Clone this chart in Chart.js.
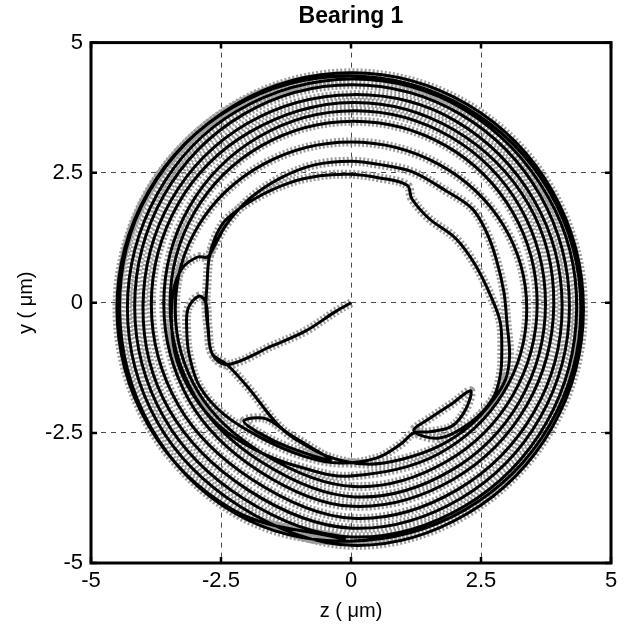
<!DOCTYPE html>
<html lang="en">
  <head>
    <meta charset="UTF-8" />
    <meta name="viewport" content="width=device-width, initial-scale=1.0" />
    <script src="https://cdn.jsdelivr.net/npm/chart.js@4.4.0/dist/chart.umd.min.js"></script>
    <title>Bearing 1</title>
    <style>
      body { margin: 0; background: #fff; }
    </style>
  </head>
  <body>
    <canvas id="chart" width="626" height="628"></canvas>
    <script>
      // shaft centre orbit at bearing 1, [z, y] in micrometres
      const tickValues = [-5, -2.5, 0, 2.5, 5];

      // start-up from the centre and the first irregular turns
      const runUp = [
        [0, 0], [-0.3, -0.17], [-0.87, -0.54], [-1.52, -0.83], [-2.38, -1.19],
        [-2.67, -0.98], [-2.75, -0.45], [-2.79, 0.0], [-2.92, 0.13],
        [-3.13, -0.1], [-3.16, -0.5], [-3.11, -1.01], [-2.91, -1.61], [-2.45, -2.14],
        [-1.72, -2.6], [-0.9, -2.95], [-0.2, -3.08], [0.5, -2.98],
        [0.95, -2.72], [1.21, -2.5], [1.5, -2.48], [1.94, -2.37], [2.21, -2.04], [2.3, -1.69],
        [1.94, -1.94], [1.56, -2.19], [1.21, -2.46],
        [1.7, -2.6], [2.3, -2.3], [2.72, -1.85], [2.87, -1.4], [2.9, -0.9], [2.87, -0.37],
        [2.71, 0.08], [2.4, 0.71], [2.02, 1.23], [1.5, 1.62], [1.17, 2.0], [1.08, 2.26],
        [0.55, 2.4], [0, 2.47], [-0.6, 2.44], [-1.2, 2.3], [-1.85, 2.0], [-2.4, 1.6],
        [-2.6, 1.28], [-2.73, 0.85], [-2.77, 0.33], [-2.79, -0.05], [-2.75, -0.5], [-2.67, -0.98],
        [-2.38, -1.19], [-1.96, -1.65], [-1.35, -2.4], [-0.81, -2.75], [-0.4, -3.02],
        [-1.19, -2.78], [-1.77, -2.5], [-2.06, -2.27], [-1.63, -2.23], [-1.1, -2.6],
        [-0.45, -2.95], [0.3, -3.1], [1.0, -3.0], [1.7, -2.75], [2.3, -2.35], [2.75, -1.85],
        [2.98, -1.45], [3.05, -1.0], [3.0, -0.4], [2.94, 0.21], [2.79, 0.85], [2.6, 1.37],
        [2.33, 1.81], [1.83, 2.15], [1.17, 2.52], [0.54, 2.66], [0, 2.72], [-0.7, 2.65],
        [-1.35, 2.4], [-1.95, 2.0], [-2.4, 1.5], [-2.65, 1.05],
        [-2.76, 0.88], [-2.95, 0.88], [-3.25, 0.66], [-3.42, 0.2], [-3.45, -0.45],
        [-3.35, -1.1], [-3.05, -1.75], [-2.55, -2.35], [-1.85, -2.82], [-1.0, -3.15]
      ];

      // orbit growing from about 3.2 to 3.7 um
      const innerTurns = [
        [0, -3.33], [1.69, -2.9], [2.93, -1.73], [3.38, -0.12], [2.93, 1.49], [1.69, 2.66],
        [0, 3.09], [-1.69, 2.66], [-2.93, 1.49], [-3.38, -0.12], [-2.93, -1.73], [-1.69, -2.9],
        [0.05, -3.53], [1.82, -3.06], [3.11, -1.78], [3.58, -0.02], [3.11, 1.74], [1.82, 3.02],
        [0.05, 3.49], [-1.72, 3.02], [-3.01, 1.74], [-3.48, -0.02], [-3.01, -1.78], [-1.72, -3.06],
        [0.07, -3.73], [1.91, -3.23], [3.25, -1.88], [3.74, -0.02], [3.25, 1.84], [1.91, 3.19],
        [0.07, 3.69], [-1.77, 3.19], [-3.11, 1.84], [-3.6, -0.02], [-3.11, -1.88], [-1.77, -3.23]
      ];

      // outer turns settling near 4.5 um
      const outerTurns = [
        [0.03, -3.91], [1.97, -3.39], [3.38, -1.97], [3.9, -0.03], [3.42, 1.88], [1.97, 3.33],
        [0.03, 3.85], [-1.95, 3.28], [-3.32, 1.91], [-3.84, -0.03], [-3.32, -1.97], [-1.91, -3.39],
        [0.03, -4.14], [2.05, -3.59], [3.52, -2.1], [4.06, -0.07], [3.52, 1.97], [2.0, 3.5],
        [0.03, 4.0], [-1.99, 3.45], [-3.46, 1.97], [-4.0, -0.07], [-3.5, -2.05], [-1.99, -3.59],
        [0.02, -4.33], [2.11, -3.76], [3.64, -2.2], [4.2, -0.07], [3.64, 2.06], [2.11, 3.62],
        [0.02, 4.19], [-2.07, 3.62], [-3.6, 2.06], [-4.16, -0.07], [-3.6, -2.2], [-2.07, -3.76],
        [0.02, -4.5], [2.18, -3.91], [3.76, -2.3], [4.34, -0.1], [3.8, 2.02], [2.18, 3.71],
        [0.02, 4.3], [-2.2, 3.68], [-3.72, 2.1], [-4.3, -0.1], [-3.72, -2.3], [-2.14, -3.91],
        [0.01, -4.66], [2.24, -4.05], [3.87, -2.39], [4.47, -0.12], [3.87, 2.15], [2.24, 3.81],
        [0.01, 4.42], [-2.22, 3.81], [-3.9, 2.1], [-4.45, -0.12], [-3.85, -2.39], [-2.22, -4.05],
        [-0.04, -4.58], [2.19, -3.98], [3.82, -2.35], [4.42, -0.11], [3.82, 2.13], [2.19, 3.76],
        [-0.04, 4.36], [-2.27, 3.76], [-3.9, 2.13], [-4.5, -0.11], [-3.9, -2.35], [-2.27, -3.98],
        [-0.1, -4.55]
      ];

      const orbit = runUp.concat(innerTurns, outerTurns).map(([z, y]) => ({ x: z, y: y }));

      // closed box with inward tick marks on all four sides
      const framePlugin = {
        id: "frame",
        afterDatasetsDraw(chart) {
          const { ctx, chartArea: a, scales } = chart;
          const len = 6;
          ctx.save();
          ctx.strokeStyle = "#000";
          ctx.lineWidth = 3;
          ctx.strokeRect(a.left, a.top, a.right - a.left, a.bottom - a.top);
          ctx.lineWidth = 2.5;
          ctx.beginPath();
          tickValues.forEach((v) => {
            const px = scales.x.getPixelForValue(v);
            const py = scales.y.getPixelForValue(v);
            ctx.moveTo(px, a.bottom); ctx.lineTo(px, a.bottom - len);
            ctx.moveTo(px, a.top); ctx.lineTo(px, a.top + len);
            ctx.moveTo(a.left, py); ctx.lineTo(a.left + len, py);
            ctx.moveTo(a.right, py); ctx.lineTo(a.right - len, py);
          });
          ctx.stroke();
          ctx.restore();
        },
      };

      const gridColor = (c) => (Math.abs(c.tick.value) === 5 ? "rgba(0,0,0,0)" : "#4a4a4a");
      const tickFont = { family: "'Liberation Sans', Arial, sans-serif", size: 22 };
      const titleFont = { family: "'Liberation Sans', Arial, sans-serif", size: 20 };

      const ctx = document.getElementById("chart").getContext("2d");
      const myChart = new Chart(ctx, {
        type: "line",
        data: {
          datasets: [
            {
              label: "orbit",
              data: orbit,
              borderColor: "#000",
              borderWidth: 3,
              pointRadius: 0,
              tension: 0.35,
              fill: false,
              order: 0,
            },
            {
              label: "orbit shadow",
              data: orbit,
              borderColor: "rgba(140,140,140,0.85)",
              borderWidth: 9,
              borderDash: [2, 2],
              pointRadius: 0,
              tension: 0.35,
              fill: false,
              order: 1,
            },
          ],
        },
        options: {
          responsive: false,
          animation: false,
          layout: { padding: { top: 0, left: 10, right: 15, bottom: 0 } },
          plugins: {
            legend: { display: false },
            tooltip: { enabled: false },
            title: {
              display: true,
              text: "Bearing 1",
              fullSize: false,
              color: "#000",
              font: { family: "'Liberation Sans', Arial, sans-serif", size: 23, weight: "bold" },
              padding: { top: 3, bottom: 12 },
            },
          },
          scales: {
            x: {
              type: "linear",
              min: -5,
              max: 5,
              afterBuildTicks: (s) => { s.ticks = tickValues.map((v) => ({ value: v })); },
              afterFit: (s) => { s.height = 65; },
              ticks: {
                color: "#000",
                font: tickFont,
                padding: 5,
                maxRotation: 0,
                autoSkip: false,
                callback: (v) => String(v),
              },
              grid: { color: gridColor, lineWidth: 1, drawTicks: false },
              border: { display: false, dash: [5, 5] },
              title: {
                display: true,
                text: "z ( μm)",
                color: "#000",
                font: titleFont,
                padding: { top: 0, bottom: 5 },
              },
            },
            y: {
              type: "linear",
              min: -5,
              max: 5,
              afterBuildTicks: (s) => { s.ticks = tickValues.map((v) => ({ value: v })); },
              afterFit: (s) => { s.width = 81; },
              ticks: {
                color: "#000",
                font: tickFont,
                padding: 8,
                autoSkip: false,
                callback: (v) => String(v),
              },
              grid: { color: gridColor, lineWidth: 1, drawTicks: false },
              border: { display: false, dash: [5, 5] },
              title: {
                display: true,
                text: "y ( μm)",
                color: "#000",
                font: titleFont,
                padding: { top: 4, bottom: 0 },
              },
            },
          },
        },
        plugins: [framePlugin],
      });
    </script>
  </body>
</html>
